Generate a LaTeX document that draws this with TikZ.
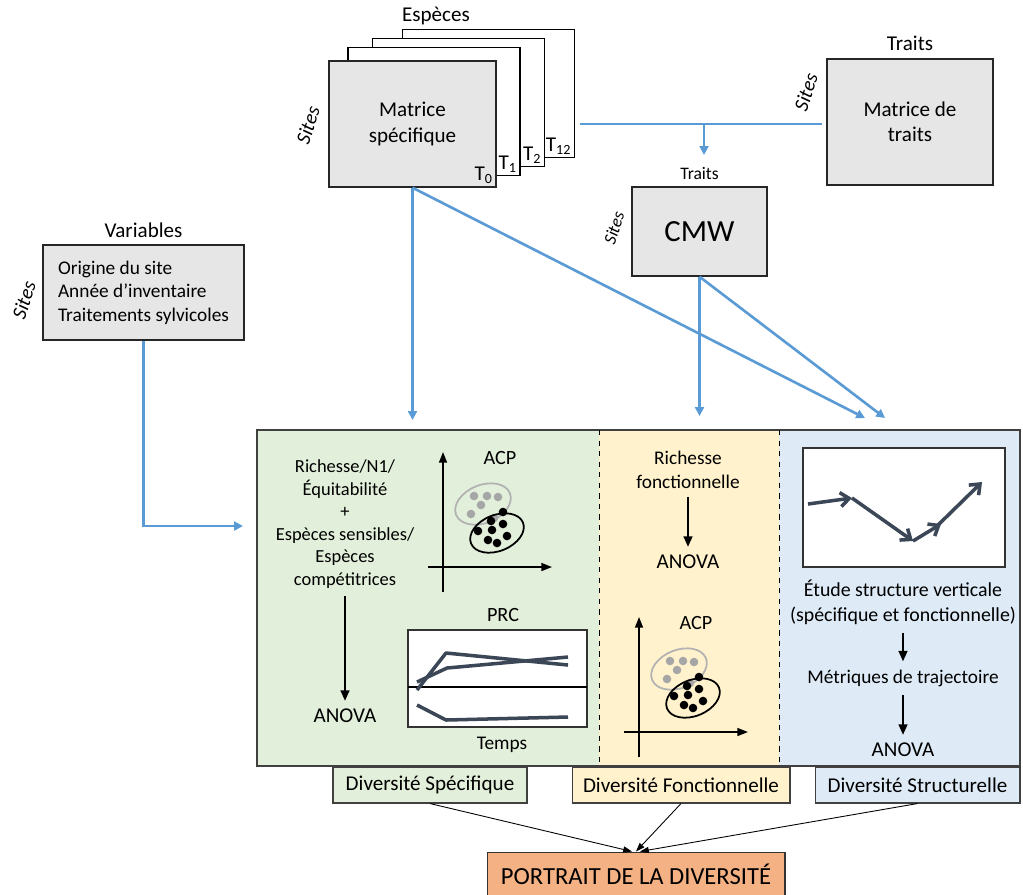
\documentclass[tikz,border=0pt]{standalone}
\usepackage{fontspec}
\setmainfont{Carlito}
\usepackage{tikz}
\usetikzlibrary{arrows.meta, positioning}
\definecolor{boxgray}{HTML}{E7E6E6}
\definecolor{arrowblue}{HTML}{5B9BD5}
\definecolor{greenbg}{HTML}{E2EFDA}
\definecolor{yellowbg}{HTML}{FFF2CC}
\definecolor{bluebg}{HTML}{DEEBF7}
\definecolor{portraitbg}{HTML}{F4B183}
\definecolor{slate}{HTML}{3B4656}
\definecolor{dotgray}{HTML}{A6A6A6}
\tikzstyle{matbox} = [draw=black!85, fill=boxgray, line width=0.8pt, align=center]
\tikzstyle{sheet} = [draw=black, fill=white, line width=0.8pt, minimum width=3.44cm, minimum height=2.56cm]
\tikzstyle{sites} = [rotate=72, inner sep=0pt, font=\itshape\fontsize{11.5}{13}\selectfont]
\tikzstyle{bluearrow} = [draw=arrowblue, line width=1.5pt, -{Triangle[length=5pt,width=5pt]}]
\tikzstyle{blueline} = [draw=arrowblue, line width=1.5pt]
\tikzstyle{blackarrow} = [line width=1.2pt, -{Triangle[length=6pt,width=5pt]}, shorten <=3pt, shorten >=3pt]
\tikzstyle{thinarrow} = [line width=0.5pt, -{Triangle[length=5pt,width=3.5pt]}]
\tikzstyle{axisline} = [line width=0.9pt, -{Triangle[length=6pt,width=4.5pt]}]
\tikzstyle{plotframe} = [draw=black!80, fill=white, line width=0.8pt]
\tikzstyle{prcline} = [draw=slate, line width=2pt, line join=round]
\tikzstyle{traj} = [prcline, -{Straight Barb[length=5pt,width=8pt]}]
\tikzstyle{divbox} = [draw=black!75, line width=0.6pt, minimum height=0.72cm, font=\fontsize{12}{14}\selectfont]
\tikzstyle{paneltext} = [align=center, inner sep=1.5pt]

% small ordination plot (ACP)
\newcommand{\acpplot}[2]{%
  \begin{scope}[shift={#1}]
    \draw[axisline] (443,592) -- (443,452);
    \draw[axisline] (428,567) -- (552,567);
    \node[font=\fontsize{11.5}{13}\selectfont] (acp#2) at (500,458) {ACP};
    \begin{scope}[shift={(483,504)}, rotate=22]
      \draw[draw=black!30, line width=1pt] (0,0) ellipse [x radius=29, y radius=19];
    \end{scope}
    \foreach \px/\py in {474/496, 487/496, 498/497, 481/505, 471/514, 494/518}
      \fill[dotgray] (\px,\py) circle [radius=4.3];
    \begin{scope}[shift={(497,533)}, rotate=22]
      \draw[line width=1pt] (0,0) ellipse [x radius=28, y radius=18];
    \end{scope}
    \foreach \px/\py in {503/512, 491/521, 503/524, 478/531, 492/530, 507/536, 488/540, 497/543}
      \fill (\px,\py) circle [radius=4.3];
  \end{scope}}

\begin{document}
\begin{tikzpicture}[x=0.02cm, y=-0.02cm, font=\fontsize{12}{14.4}\selectfont]
\useasboundingbox (0,0) rectangle (1023,894);

% species matrices (one per year)
\node[sheet] (t12) at (488.5,93.5) {};
\node[sheet] (t2) at (458.5,102.5) {};
\node[sheet] (t1) at (434,111.5) {};
\node[matbox, minimum width=3.34cm, minimum height=2.52cm] (mspec) at (412.5,124) {Matrice\\spécifique};
\node[anchor=south east, inner sep=2pt] (lt0) at (mspec.south east) {T\textsubscript{0}};
\node[anchor=south east, inner sep=2pt] (lt1) at (t1.south east) {T\textsubscript{1}};
\node[anchor=south east, inner sep=2pt] (lt2) at (t2.south east) {T\textsubscript{2}};
\node[anchor=south east, inner sep=2pt] (lt12) at (t12.south east) {T\textsubscript{12}};
\node (lesp) at (436,16) {Espèces};
\node[sites] (sitesspec) at (308,125) {Sites};

% traits
\node[matbox, minimum width=3.32cm, minimum height=2.52cm] (mtraits) at (910,122) {Matrice de\\traits};
\node[above=1pt of mtraits] (ltraits) {Traits};
\node[sites] (sitestraits) at (806,92) {Sites};

\node[matbox, minimum width=2.7cm, minimum height=1.78cm, font=\fontsize{17.5}{20}\selectfont] (cmw) at (699.5,231.5) {CMW};
\node[above=0pt of cmw, font=\fontsize{10}{12}\selectfont] (lcmw) {Traits};
\node[sites, font=\itshape\fontsize{10}{12}\selectfont] (sitescmw) at (614,228) {Sites};

% variables
\node[matbox, minimum width=4.02cm, minimum height=1.9cm, align=left, font=\fontsize{11}{13.3}\selectfont] (vars) at (143.5,292.5) {Origine du site\\Année d’inventaire\\Traitements sylvicoles};
\node[above=0pt of vars] (lvars) {Variables};
\node[sites] (sitesvars) at (24,300) {Sites};

% blue links
\coordinate (jleft) at (580,124);
\coordinate (junc) at (704,124);
\coordinate (jright) at (822,124);
\coordinate (cmwin) at (704,155);
\coordinate (gin) at (410,420);
\coordinate (sin) at (865,418);
\coordinate (fin) at (698,416);
\coordinate (sin2) at (885,418);
\coordinate (vin) at (243,526);
\draw[blueline] (jleft) -- (jright);
\draw[bluearrow] (junc) -- (cmwin);
\draw[bluearrow] (mspec.south) -- (mspec.south |- gin);
\draw[bluearrow] (mspec.south) -- (sin);
\draw[bluearrow] (cmw.south) -- (cmw.south |- fin);
\draw[bluearrow] (cmw.south) -- (sin2);
\draw[bluearrow] (vars.south) |- (vin);

% panels
\fill[greenbg] (257,430) rectangle (599,766);
\fill[yellowbg] (599,430) rectangle (779,766);
\fill[bluebg] (779,430) rectangle (1020,766);
\draw[black!75, line width=0.8pt] (257,430) rectangle (1020,766);
\draw[dashed] (599,430) -- (599,766);
\draw[dashed] (779,430) -- (779,766);

% specific diversity
\node[paneltext, font=\fontsize{10.5}{12.8}\selectfont] (gtext) at (345,524) {Richesse/N1/\\Équitabilité\\+\\Espèces sensibles/\\Espèces\\compétitrices};
\node[paneltext] (ganova) at (345,716) {ANOVA};
\draw[blackarrow] (gtext) -- (ganova);
\acpplot{(0,0)}{g}
\node[font=\fontsize{11.5}{13}\selectfont] (lprc) at (503,615) {PRC};
\draw[plotframe] (408,630) rectangle (587,727);
\draw[line width=0.8pt] (408,687) -- (587,687);
\draw[prcline] (417,690) -- (446,653) -- (568,665);
\draw[prcline] (417,682) -- (447,668) -- (568,657);
\draw[prcline] (417,705) -- (446,720) -- (568,717);
\node[font=\fontsize{11}{13}\selectfont] (ltemps) at (502,745) {Temps};

% functional diversity
\node[paneltext, font=\fontsize{11}{13.5}\selectfont] (ftext) at (688,470) {Richesse\\fonctionnelle};
\node[paneltext] (fanova) at (688,562) {ANOVA};
\draw[blackarrow] (ftext) -- (fanova);
\acpplot{(196,165)}{f}

% structural diversity
\draw[plotframe] (803,448) rectangle (1005,567);
\draw[traj] (808,504) -- (852,498);
\draw[traj] (852,498) -- (913,541);
\draw[traj] (913,541) -- (941,524);
\draw[traj] (936,527) -- (982,482);
\node[paneltext, font=\fontsize{11.3}{14.2}\selectfont] (stext) at (903,602) {Étude structure verticale\\(spécifique et fonctionnelle)};
\node[paneltext, font=\fontsize{11}{13}\selectfont] (smetr) at (903,678) {Métriques de trajectoire};
\node[paneltext] (sanova) at (903,750) {ANOVA};
\draw[blackarrow] (stext) -- (smetr);
\draw[blackarrow] (smetr) -- (sanova);

% summary
\node[divbox, fill=greenbg, minimum width=3.88cm] (dspec) at (430,785) {Diversité Spécifique};
\node[divbox, fill=yellowbg, minimum width=4.36cm] (dfonc) at (681,785) {Diversité Fonctionnelle};
\node[divbox, fill=bluebg, minimum width=4.1cm] (dstruc) at (917.5,785) {Diversité Structurelle};
\node[draw=black!80, fill=portraitbg, line width=0.6pt, minimum width=5.96cm, minimum height=0.9cm, font=\fontsize{14}{16}\selectfont] (port) at (636,874.5) {PORTRAIT DE LA DIVERSITÉ};
\draw[thinarrow] (dspec.south) -- ([xshift=-0.08cm]port.north);
\draw[thinarrow] (dfonc.south) -- (port.north);
\draw[thinarrow] (dstruc.south) -- ([xshift=0.08cm]port.north);
\end{tikzpicture}
\end{document}
